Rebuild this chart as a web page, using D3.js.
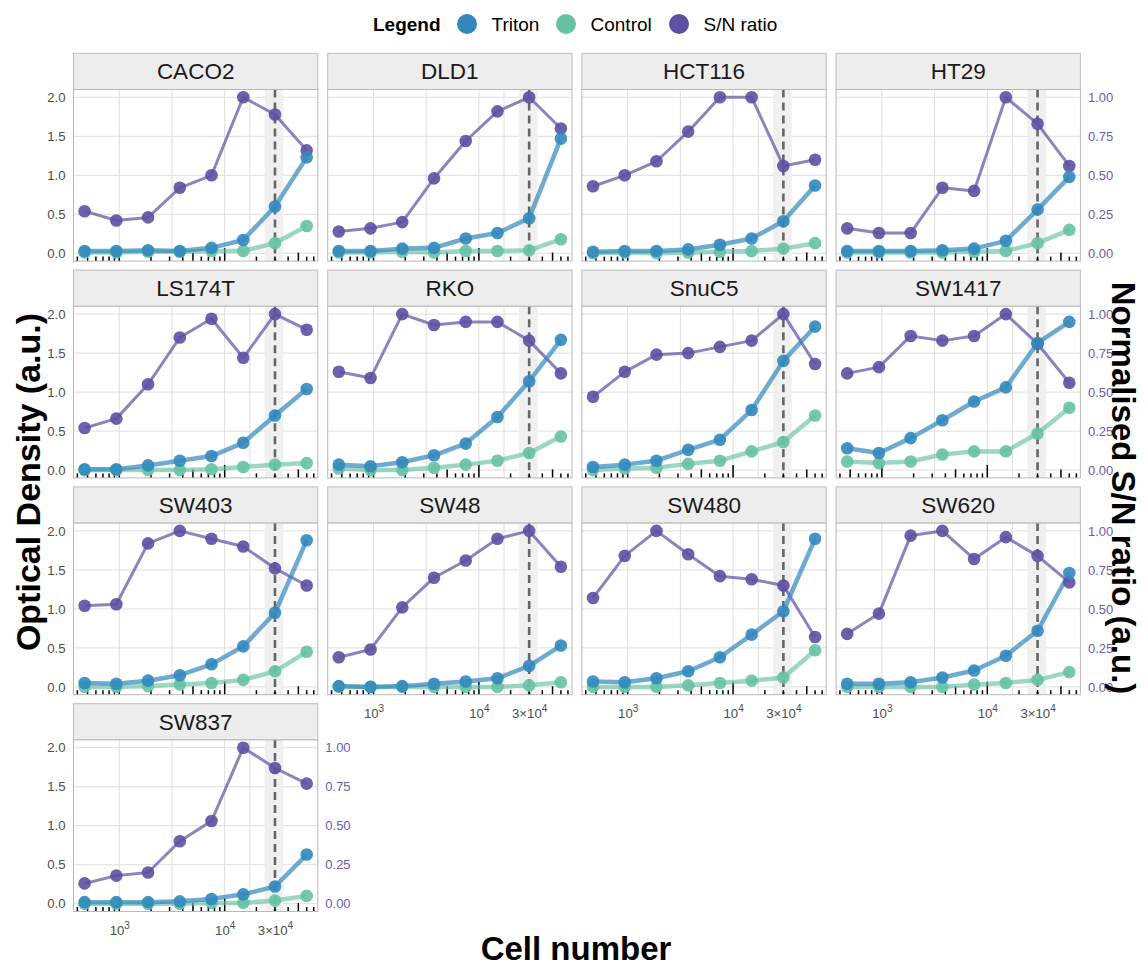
<!DOCTYPE html>
<html>
<head>
<meta charset="utf-8">
<script src="https://cdn.jsdelivr.net/npm/d3@7"></script>
<style>
  body { margin: 0; background: #fff; }
  svg { font-family: "Liberation Sans", Arial, Helvetica, sans-serif; }
</style>
</head>
<body>
<div id="chart"></div>
<script>
// data
const cellLines = ["CACO2", "DLD1", "HCT116", "HT29", "LS174T", "RKO", "SnuC5",
                   "SW1417", "SW403", "SW48", "SW480", "SW620", "SW837"];
const cellNumbers = [468.75, 937.5, 1875, 3750, 7500, 15000, 30000, 60000];

// optical density, one row per cell line
const tritonOD = [
  [0.03, 0.03, 0.04, 0.03, 0.07, 0.17, 0.60, 1.23],
  [0.03, 0.03, 0.06, 0.07, 0.19, 0.26, 0.45, 1.47],
  [0.02, 0.03, 0.03, 0.05, 0.11, 0.19, 0.41, 0.87],
  [0.03, 0.03, 0.03, 0.04, 0.06, 0.16, 0.56, 0.98],
  [0.01, 0.01, 0.06, 0.12, 0.18, 0.35, 0.70, 1.04],
  [0.07, 0.05, 0.10, 0.19, 0.34, 0.68, 1.14, 1.67],
  [0.04, 0.07, 0.12, 0.26, 0.39, 0.77, 1.40, 1.84],
  [0.28, 0.22, 0.41, 0.64, 0.88, 1.06, 1.63, 1.90],
  [0.05, 0.04, 0.08, 0.15, 0.29, 0.52, 0.95, 1.88],
  [0.01, 0.00, 0.01, 0.04, 0.07, 0.11, 0.27, 0.53],
  [0.07, 0.06, 0.11, 0.20, 0.38, 0.67, 0.97, 1.90],
  [0.04, 0.04, 0.06, 0.12, 0.21, 0.40, 0.72, 1.46],
  [0.02, 0.02, 0.02, 0.03, 0.06, 0.12, 0.22, 0.63]
];
const controlOD = [
  [0.01, 0.01, 0.02, 0.02, 0.03, 0.03, 0.13, 0.35],
  [0.01, 0.01, 0.02, 0.01, 0.03, 0.03, 0.04, 0.18],
  [0.00, 0.01, 0.00, 0.01, 0.02, 0.03, 0.06, 0.13],
  [0.01, 0.01, 0.01, 0.01, 0.02, 0.03, 0.13, 0.30],
  [0.00, 0.00, 0.00, 0.00, 0.01, 0.04, 0.07, 0.09],
  [0.02, 0.00, 0.00, 0.03, 0.07, 0.12, 0.22, 0.43],
  [0.00, 0.02, 0.03, 0.08, 0.12, 0.24, 0.36, 0.70],
  [0.11, 0.09, 0.11, 0.20, 0.24, 0.24, 0.47, 0.80],
  [0.00, 0.00, 0.01, 0.03, 0.05, 0.09, 0.20, 0.45],
  [0.00, 0.00, 0.00, 0.00, 0.00, 0.00, 0.02, 0.06],
  [0.00, 0.00, 0.00, 0.02, 0.05, 0.08, 0.12, 0.47],
  [0.00, 0.00, 0.00, 0.00, 0.03, 0.05, 0.09, 0.19],
  [0.00, 0.00, 0.00, 0.00, 0.01, 0.01, 0.04, 0.10]
];
// normalised S/N ratio (0..1)
const snRatio = [
  [0.27, 0.21, 0.23, 0.42, 0.50, 1.00, 0.89, 0.66],
  [0.14, 0.16, 0.20, 0.48, 0.72, 0.91, 1.00, 0.80],
  [0.43, 0.50, 0.59, 0.78, 1.00, 1.00, 0.56, 0.60],
  [0.16, 0.13, 0.13, 0.42, 0.40, 1.00, 0.83, 0.56],
  [0.27, 0.33, 0.55, 0.85, 0.97, 0.72, 1.00, 0.90],
  [0.63, 0.59, 1.00, 0.93, 0.95, 0.95, 0.83, 0.62],
  [0.47, 0.63, 0.74, 0.75, 0.79, 0.83, 1.00, 0.68],
  [0.62, 0.66, 0.86, 0.83, 0.86, 1.00, 0.81, 0.56],
  [0.52, 0.53, 0.92, 1.00, 0.95, 0.90, 0.76, 0.65],
  [0.19, 0.24, 0.51, 0.70, 0.81, 0.95, 1.00, 0.77],
  [0.57, 0.84, 1.00, 0.85, 0.71, 0.69, 0.65, 0.32],
  [0.34, 0.47, 0.97, 1.00, 0.82, 0.96, 0.84, 0.67],
  [0.13, 0.18, 0.20, 0.40, 0.53, 1.00, 0.87, 0.77]
];

const odTicks = [0, 0.5, 1, 1.5, 2];
const snTicks = [0, 0.25, 0.5, 0.75, 1];
const xTickValues = [1e3, 1e4, 3e4];
const xTickLabels = [["10", "3"], ["10", "4"], ["3\u00d710", "4"]];
const optimalCells = 30000;
const optimalBand = [24000, 36000];
const seriesNames = ["Triton", "Control", "S/N ratio"];
const seriesColors = ["#3288BD", "#66C2A5", "#5E4FA2"];

const W = 1145, H = 967;
const nCols = 4;
const left0 = 73.5, colStride = 254.2, panelW = 244.3;
const stripTop0 = 53.3, rowStride = 216.8, stripH = 36.2, panelH = 171.6;

const svg = d3.select("#chart").append("svg")
  .attr("width", W)
  .attr("height", H);

// scales shared by every panel (ggplot style 5% expansion)
const logLo = Math.log10(d3.min(cellNumbers)), logHi = Math.log10(d3.max(cellNumbers));
const pad = 0.05 * (logHi - logLo);
const x = d3.scaleLog().domain([10 ** (logLo - pad), 10 ** (logHi + pad)]).range([0, panelW]);
const y = d3.scaleLinear().domain([-0.1, 2.1]).range([panelH, 0]);
const ySec = d3.scaleLinear().domain([-0.05, 1.05]).range([panelH, 0]);

const xMinor = d3.pairs(xTickValues).map(([a, b]) => Math.sqrt(a * b));
const xGrid = xTickValues.concat(xMinor);

// annotation_logticks style marks
const logTicks = [];
for (let e = 2; e <= 4; e++) {
  for (let k = 1; k <= 9; k++) {
    const v = k * 10 ** e;
    if (v >= x.domain()[0] && v <= x.domain()[1]) {
      logTicks.push({ v: v, len: k === 1 ? 13 : (k === 5 ? 8.5 : 4.5) });
    }
  }
}

const lineGen = (scale) => d3.line()
  .x((d, j) => x(cellNumbers[j]))
  .y(d => scale(d));

cellLines.forEach((name, i) => {
  const r = Math.floor(i / nCols), c = i % nCols;
  const px = left0 + c * colStride;
  const sy = stripTop0 + r * rowStride;
  const py = sy + stripH;

  // strip
  svg.append("rect")
    .attr("x", px).attr("y", sy)
    .attr("width", panelW).attr("height", stripH)
    .attr("fill", "#ededed").attr("stroke", "#bdbdbd").attr("stroke-width", 1);
  svg.append("text")
    .attr("x", px + panelW / 2).attr("y", sy + 26)
    .attr("text-anchor", "middle")
    .attr("font-size", 22.5)
    .attr("fill", "#1a1a1a")
    .text(name);

  const g = svg.append("g").attr("transform", `translate(${px},${py})`);

  g.append("rect").attr("width", panelW).attr("height", panelH).attr("fill", "#fff");

  // grid
  g.selectAll(".hgrid").data(odTicks).enter().append("line")
    .attr("x1", 0).attr("x2", panelW)
    .attr("y1", d => y(d)).attr("y2", d => y(d))
    .attr("stroke", "#dedede").attr("stroke-width", 1);
  g.selectAll(".vgrid").data(xGrid).enter().append("line")
    .attr("x1", d => x(d)).attr("x2", d => x(d))
    .attr("y1", 0).attr("y2", panelH)
    .attr("stroke", "#dedede").attr("stroke-width", 1);

  // optimum band and dashed line
  g.append("rect")
    .attr("x", x(optimalBand[0])).attr("y", 0)
    .attr("width", x(optimalBand[1]) - x(optimalBand[0]))
    .attr("height", panelH)
    .attr("fill", "#f0f0f0");
  g.append("line")
    .attr("x1", x(optimalCells)).attr("x2", x(optimalCells))
    .attr("y1", 0).attr("y2", panelH)
    .attr("stroke", "#666").attr("stroke-width", 2.6)
    .attr("stroke-dasharray", "8,5");

  // log ticks
  g.selectAll(".lt").data(logTicks).enter().append("line")
    .attr("x1", d => x(d.v)).attr("x2", d => x(d.v))
    .attr("y1", panelH).attr("y2", d => panelH - d.len)
    .attr("stroke", "#000").attr("stroke-width", 1.5);

  const series = [
    { vals: snRatio[i], scale: ySec, color: seriesColors[2], w: 3, op: 0.7 },
    { vals: controlOD[i], scale: y, color: seriesColors[1], w: 4.5, op: 0.65 },
    { vals: tritonOD[i], scale: y, color: seriesColors[0], w: 4.5, op: 0.7 }
  ];
  series.forEach(s => {
    g.append("path")
      .datum(s.vals)
      .attr("d", lineGen(s.scale))
      .attr("fill", "none")
      .attr("stroke", s.color)
      .attr("stroke-width", s.w)
      .attr("stroke-opacity", s.op)
      .attr("stroke-linejoin", "round");
  });
  series.forEach(s => {
    g.selectAll(null).data(s.vals).enter().append("circle")
      .attr("cx", (d, j) => x(cellNumbers[j]))
      .attr("cy", d => s.scale(d))
      .attr("r", 6.3)
      .attr("fill", s.color)
      .attr("fill-opacity", 0.9);
  });

  // panel border
  g.append("rect").attr("width", panelW).attr("height", panelH)
    .attr("fill", "none").attr("stroke", "#b8b8b8").attr("stroke-width", 1);

  // axes
  if (c === 0) {
    const ax = g.append("g").call(d3.axisLeft(y).tickValues(odTicks)
      .tickFormat(d3.format(".1f")).tickSize(0).tickPadding(8));
    ax.attr("font-family", null).attr("font-size", null);
    ax.select(".domain").remove();
    ax.selectAll("text").attr("font-size", 13.2).attr("fill", "#4d4d4d");
  }
  if (c === nCols - 1 || i === cellLines.length - 1) {
    const ax = g.append("g").attr("transform", `translate(${panelW},0)`)
      .call(d3.axisRight(ySec).tickValues(snTicks)
        .tickFormat(d3.format(".2f")).tickSize(0).tickPadding(7.5));
    ax.attr("font-family", null).attr("font-size", null);
    ax.select(".domain").remove();
    ax.selectAll("text").attr("font-size", 13).attr("fill", "#6a5cb0");
  }
  if (i + nCols >= cellLines.length) {
    const ax = g.append("g").attr("transform", `translate(0,${panelH})`)
      .call(d3.axisBottom(x).tickValues(xTickValues).tickFormat("").tickSize(0).tickPadding(14));
    ax.attr("font-family", null).attr("font-size", null);
    ax.select(".domain").remove();
    ax.selectAll(".tick text")
      .attr("font-size", 13.2).attr("fill", "#4d4d4d")
      .each(function (d, k) {
        const t = d3.select(this);
        t.append("tspan").text(xTickLabels[k][0]);
        t.append("tspan").attr("dy", -6).attr("font-size", 10).text(xTickLabels[k][1]);
      });
  }
});

// axis titles
svg.append("text")
  .attr("x", 576).attr("y", 960)
  .attr("text-anchor", "middle")
  .attr("font-size", 33).attr("font-weight", "bold")
  .text("Cell number");
svg.append("text")
  .attr("transform", "translate(40,482) rotate(-90)")
  .attr("text-anchor", "middle")
  .attr("font-size", 34).attr("font-weight", "bold")
  .text("Optical Density (a.u.)");
svg.append("text")
  .attr("transform", "translate(1112,488) rotate(90)")
  .attr("text-anchor", "middle")
  .attr("font-size", 33).attr("font-weight", "bold")
  .text("Normalised S/N ratio (a.u.)");

// legend
const legend = svg.append("g");
legend.append("text")
  .attr("x", 373).attr("y", 31)
  .attr("font-size", 19).attr("font-weight", "bold")
  .text("Legend");
const legX = [467, 566, 679];
seriesNames.forEach((s, k) => {
  legend.append("circle")
    .attr("cx", legX[k]).attr("cy", 24).attr("r", 10)
    .attr("fill", seriesColors[k]);
  legend.append("text")
    .attr("x", legX[k] + 24.5).attr("y", 31)
    .attr("font-size", 19)
    .text(s);
});
</script>
</body>
</html>
